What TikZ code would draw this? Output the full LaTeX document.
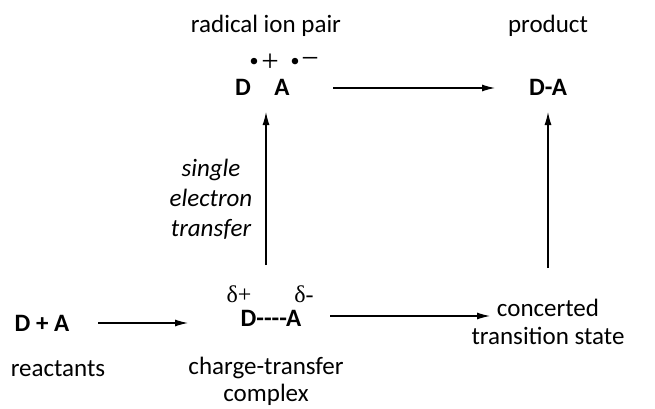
\documentclass[tikz,border=0pt]{standalone}
\usepackage{fontspec}
\setmainfont{Carlito}
\newfontfamily\symfont{Liberation Serif}
\usetikzlibrary{arrows.meta}
\begin{document}
\begin{tikzpicture}[x=1pt,y=-1pt,
  lbl/.style={font=\fontsize{25}{28}\selectfont, inner sep=0pt},
  chem/.style={font=\fontsize{25}{30}\selectfont\bfseries, inner sep=0pt},
  chg/.style={font=\fontsize{24}{28}\selectfont\symfont, inner sep=0pt},
  sgn/.style={font=\fontsize{31}{32}\selectfont\symfont, inner sep=0pt},
  dot/.style={font=\fontsize{27}{28}\selectfont\symfont, inner sep=0pt},
  arr/.style={-{Latex[length=13pt,width=7pt]}, line width=1.1pt}]
\useasboundingbox (0,0) rectangle (655,409);
\node[lbl] (lrip) at (266,26) {radical ion pair};
\node[lbl] (lprod) at (548,26) {product};
\node[chem] (rD) at (243,87) {D};
\node[chem] (rA) at (282,87) {A};
\node[dot] (rb1) at (254,64) {•};
\node[sgn] (rp) at (270,63) {+};
\node[dot] (rb2) at (295,64) {•};
\node[sgn] (rm) at (310,63) {−};
\node[chem] (pDA) at (548,87) {D-A};
\node[chem] (DpA) at (42,323) {D + A};
\node[lbl] (lreact) at (58,369) {reactants};
\node[chem] (ct) at (271,318) {D{-}{-}{-}{-}A};
\node[chg] (dp) at (239,294) {δ+};
\node[chg] (dm) at (304,294) {δ-};
\node[lbl,align=center,font=\fontsize{25}{27}\selectfont] (lct) at (266,381) {charge-transfer\\complex};
\node[lbl,align=center] (lcts) at (548,322) {concerted\\transition state};
\node[lbl,align=center,font=\fontsize{25}{30}\selectfont\itshape] (lset) at (211,199) {single\\electron\\transfer};
\draw[arr] (333,88) -- (495,88);
\draw[arr] (98,323) -- (188,323);
\draw[arr] (330,316) -- (490,316);
\draw[arr] (266,265) -- (266,112);
\draw[arr] (548,268) -- (548,112);
\end{tikzpicture}
\end{document}
